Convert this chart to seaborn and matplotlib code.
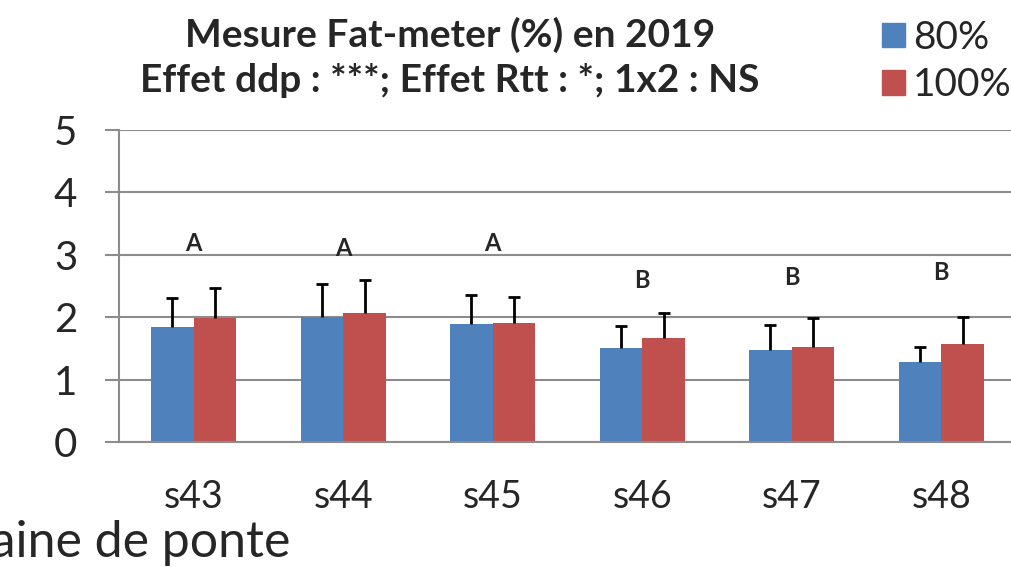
import numpy as np
import pandas as pd
import matplotlib.pyplot as plt
import matplotlib.patches as mpatches
import seaborn as sns

# Données
semaines = ["s43", "s44", "s45", "s46", "s47", "s48"]
rtt_80 = [1.84, 2.00, 1.89, 1.51, 1.48, 1.29]
rtt_100 = [1.98, 2.06, 1.90, 1.66, 1.52, 1.57]
err_80 = [0.46, 0.53, 0.47, 0.35, 0.39, 0.23]
err_100 = [0.48, 0.53, 0.43, 0.40, 0.47, 0.43]
lettres = ["A", "A", "A", "B", "B", "B"]
lettres_y = [3.18, 3.10, 3.18, 2.59, 2.64, 2.72]
groupes = ["80%", "100%"]
couleurs = ["#4F81BD", "#C0504D"]
grid_col = "#8c8c8c"

df = pd.DataFrame({
    "semaine": semaines * 2,
    "fat": rtt_80 + rtt_100,
    "rtt": [groupes[0]] * 6 + [groupes[1]] * 6,
})

sns.set_style("white")
plt.rcParams["font.family"] = ["Lato", "DejaVu Sans"]

fig = plt.figure(figsize=(10.12, 5.67), dpi=100)
ax = fig.add_axes([119 / 1012, 125 / 567, 897 / 1012, 312 / 567])

sns.barplot(data=df, x="semaine", y="fat", hue="rtt", palette=couleurs,
            width=0.57, saturation=1, edgecolor="none", legend=False, ax=ax)

# barres d'erreur (vers le haut seulement, pas de trait en bas)
for cont, errs in zip(ax.containers, [err_80, err_100]):
    xs = np.array([p.get_x() + p.get_width() / 2 for p in cont.patches])
    hs = np.array([p.get_height() for p in cont.patches])
    tops = hs + np.array(errs)
    ax.vlines(xs, hs, tops, color="black", linewidth=2, zorder=5)
    ax.plot(xs, tops, ls="none", marker="_", markersize=9, mew=2,
            color="black", zorder=5)

for i, (l, y) in enumerate(zip(lettres, lettres_y)):
    ax.text(i, y, l, ha="center", va="center", fontsize=17, fontweight="bold")

ax.set_ylim(0, 5)
ax.set_xlim(-0.5, 5.5)
ax.set_yticks(range(0, 6))
ax.yaxis.grid(True, color=grid_col, linewidth=1.5)
ax.set_axisbelow(True)
ax.set_xlabel("")
ax.set_ylabel("")
for s in ["top", "right"]:
    ax.spines[s].set_visible(False)
for s in ["left", "bottom"]:
    ax.spines[s].set_color(grid_col)
    ax.spines[s].set_linewidth(1.5)
ax.set_xticks(np.arange(-0.5, 6, 1), minor=True)
ax.tick_params(axis="x", which="major", length=0, pad=27, labelsize=27)
ax.tick_params(axis="x", which="minor", length=10, width=1.5, color=grid_col, direction="out")
ax.tick_params(axis="y", length=10, width=1.5, color=grid_col, direction="out",
               pad=20, labelsize=29, left=True)

fig.text(450 / 1012, 1 - 35 / 567, "Mesure Fat-meter (%) en 2019",
         ha="center", va="center", fontsize=28, fontweight="bold")
fig.text(450 / 1012, 1 - 80 / 567, "Effet ddp : ***; Effet Rtt : *; 1x2 : NS",
         ha="center", va="center", fontsize=28, fontweight="bold")

# libellé de l'axe x coupé à gauche
fig.text(290 / 1012, 1 - 543 / 567, "Semaine de ponte", ha="right", va="center",
         fontsize=36)

handles = [mpatches.Patch(color=c, label=g) for c, g in zip(couleurs, groupes)]
fig.legend(handles=handles, loc="upper left", bbox_to_anchor=(866 / 1012, 1 - 4 / 567),
           frameon=False, fontsize=28, handlelength=0.6, handleheight=0.6,
           handletextpad=0.2, labelspacing=0.3, borderaxespad=0)

fig.savefig("out.png", dpi=100)
